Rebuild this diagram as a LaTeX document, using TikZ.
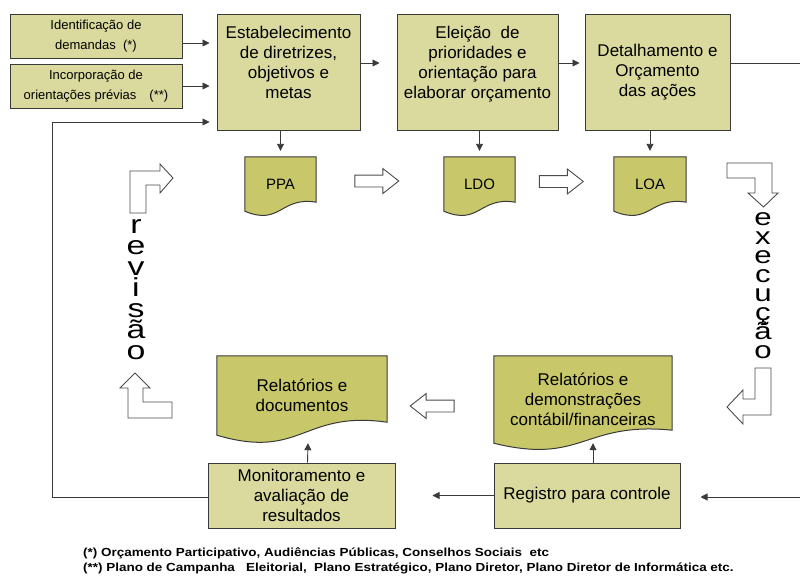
\documentclass[tikz,border=0pt]{standalone}
\usepackage{fontspec}
\setmainfont{Liberation Sans}
\newfontfamily\widesans[FakeStretch=1.3]{Liberation Sans}
\newfontfamily\widebold[FakeStretch=1.15]{Liberation Sans Bold}
\usepackage{tikz}
\usetikzlibrary{positioning, arrows.meta, calc, shapes.arrows, backgrounds}
\definecolor{boxkhaki}{HTML}{DADA9E}
\definecolor{docolive}{HTML}{C8C86B}
\definecolor{edgegray}{HTML}{3A3A3A}
\newcommand{\tightstack}{\lineskiplimit=-50pt\relax}

\tikzset{
  procbox/.style={fill=boxkhaki, draw=edgegray, line width=1pt, align=center,
                  inner sep=2pt, font=\fontsize{17}{20}\selectfont},
  inbox/.style={procbox, font=\fontsize{13}{20}\selectfont,
                minimum width=172pt, minimum height=44pt},
  docbox/.style={align=center, inner sep=0pt, font=\fontsize{17}{20}\selectfont},
  docline/.style={fill=docolive, draw=edgegray, line width=1pt},
  flow/.style={-{Triangle[length=7pt,width=7pt]}, line width=0.9pt, draw=edgegray},
  plainline/.style={line width=0.9pt, draw=edgegray},
  blockarrow/.style={single arrow, draw=black!70, fill=white, line width=0.9pt,
                     inner sep=5.5pt, single arrow head extend=6.5pt,
                     single arrow tip angle=76, minimum height=44pt},
  hollow/.style={draw=black!70, fill=white, line width=0.9pt},
  vword/.style={align=center, inner sep=0pt},
  footline/.style={anchor=west, inner sep=0pt, font=\widebold\fontsize{11.7}{14}\selectfont}
}

\begin{document}
\begin{tikzpicture}[x=1pt, y=-1pt]
  \useasboundingbox (0,0) rectangle (800,579);

  % entradas e etapas de elaboracao
  \node[inbox] (ident) at (96,36) {Identificação de\\demandas\ \ (*)};
  \node[inbox] (incorp) at (96,86) {Incorporação de\\orientações prévias\quad(**)};
  \node[procbox, minimum width=143pt, minimum height=116pt, text depth=20pt] (estab) at (288.5,72)
    {Estabelecimento\\de diretrizes,\\objetivos e\\metas};
  \node[procbox, minimum width=161pt, minimum height=116pt, text depth=20pt] (elei) at (477.5,72)
    {Eleição\ \ de\\prioridades e\\orientação para\\elaborar orçamento};
  \node[procbox, minimum width=145pt, minimum height=116pt] (detal) at (657.5,72)
    {Detalhamento e\\Orçamento\\das ações};

  % documentos
  \node[docbox, minimum width=71pt, minimum height=54pt, font=\fontsize{15}{18}\selectfont] (ppa) at (280.5,184) {PPA};
  \node[docbox, minimum width=71pt, minimum height=54pt, font=\fontsize{15}{18}\selectfont] (ldo) at (479.5,184) {LDO};
  \node[docbox, minimum width=72pt, minimum height=54pt, font=\fontsize{15}{18}\selectfont] (loa) at (650,184) {LOA};
  \node[docbox, minimum width=170pt, minimum height=79pt] (reldoc) at (302,395.5)
    {Relatórios e\\documentos};
  \node[docbox, minimum width=178pt, minimum height=87pt] (reldem) at (583,399.5)
    {Relatórios e\\demonstrações\\contábil/financeiras};

  \begin{pgfonlayer}{background}
    \foreach \d/\r/\c in {ppa/9pt/15pt, ldo/9pt/15pt, loa/9pt/15pt, reldoc/13pt/25pt, reldem/13pt/22pt}
      \draw[docline] (\d.north west) -- (\d.north east) -- ([yshift=\r]\d.south east)
        .. controls ([yshift=\c]\d.south) and ([yshift=-\c]\d.south) .. (\d.south west) -- cycle;
  \end{pgfonlayer}

  % execucao
  \node[procbox, minimum width=187pt, minimum height=65pt] (monit) at (301.5,495.5)
    {Monitoramento e\\avaliação de\\resultados};
  \node[procbox, minimum width=186pt, minimum height=65pt] (regist) at (587,495.5)
    {Registro para controle};

  \coordinate (outR) at (800,63);
  \coordinate (inR) at (800,497);
  \coordinate (fbB) at (52,497);
  \coordinate (fbT) at (52,122);

  % conectores
  \draw[flow, shorten >=7pt] ([yshift=-7pt]ident.east) -- ([yshift=-7pt]ident.east -| estab.west);
  \draw[flow, shorten >=7pt] (incorp.east) -- (incorp.east -| estab.west);
  \draw[flow, shorten >=17pt] ([yshift=9pt]estab.east) -- ([yshift=9pt]estab.east -| elei.west);
  \draw[flow, shorten >=5pt] ([yshift=9pt]elei.east) -- ([yshift=9pt]elei.east -| detal.west);
  \draw[plainline] ([yshift=9pt]detal.east) -- (outR);
  \draw[flow, shorten >=6pt] (estab.south -| ppa.north) -- (ppa.north);
  \draw[flow, shorten >=6pt] (elei.south -| ldo.north) -- (ldo.north);
  \draw[flow, shorten >=6pt] (detal.south -| loa.north) -- (loa.north);
  \draw[flow, shorten >=20pt] (inR) -- (inR -| regist.east);
  \draw[flow, shorten >=37pt] (regist.west) -- (regist.west -| monit.east);
  \draw[flow] ([xshift=6pt]monit.north) -- ([xshift=6pt,yshift=-8pt]reldoc.south);
  \draw[flow] ([xshift=6pt]regist.north) -- ([xshift=6pt]regist.north |- reldem.south);
  \draw[flow, shorten >=7pt] (monit.west |- fbB) -- (fbB) -- (fbT) -- (fbT -| estab.west);

  % setas largas
  \node[blockarrow] (ppa2ldo) at (373,181) {};
  \node[blockarrow] (ldo2loa) at (557.5,181.5) {};
  \node[blockarrow, shape border rotate=180] (dem2doc) at (436,406) {};
  \draw[hollow] (130,213) -- (130,171) -- (160,171) -- (160,164) -- (173,178)
    -- (160,193) -- (160,185) -- (146,185) -- (146,213) -- cycle;
  \draw[hollow] (135,373) -- (150,388) -- (143,388) -- (143,402) -- (172,402)
    -- (172,418) -- (128,418) -- (128,388) -- (120,388) -- cycle;
  \draw[hollow] (727,163) -- (772,163) -- (772,193) -- (778,193) -- (763.5,207)
    -- (748,193) -- (755,193) -- (755,178) -- (727,178) -- cycle;
  \draw[hollow] (771,368) -- (771,415) -- (743,415) -- (743,424) -- (727,407)
    -- (743,390) -- (743,399) -- (755,399) -- (755,368) -- cycle;

  \node[vword, font=\widesans\fontsize{26}{21}\selectfont\tightstack] (revisao) at (136,290)
    {r\\e\\v\\i\\s\\ã\\o};
  \node[vword, font=\widesans\fontsize{24}{19}\selectfont\tightstack] (execucao) at (763,286)
    {e\\x\\e\\c\\u\\ç\\ã\\o};

  % notas
  \node[footline] (nota1) at (83,553)
    {(*) Orçamento Participativo, Audiências Públicas, Conselhos Sociais\ \ etc};
  \node[footline] (nota2) at (83,568)
    {(**) Plano de Campanha\ \ \ Eleitorial,\ \ Plano Estratégico, Plano Diretor, Plano Diretor de Informática etc.};
\end{tikzpicture}
\end{document}
